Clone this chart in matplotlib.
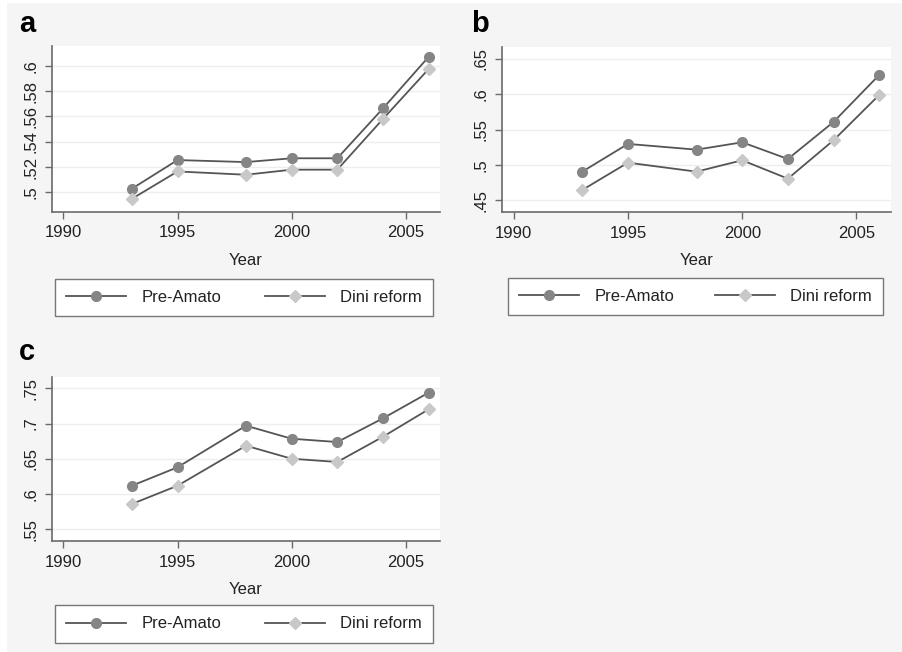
import matplotlib
matplotlib.use("Agg")
import matplotlib.pyplot as plt
from matplotlib.lines import Line2D
from matplotlib.patches import Rectangle

plt.rcParams['font.family'] = ['Liberation Sans', 'DejaVu Sans']

years = [1993, 1995, 1998, 2000, 2002, 2004, 2006]

a_pre = [0.503, 0.5256, 0.524, 0.527, 0.527, 0.5663, 0.607]
a_dini = [0.495, 0.5166, 0.514, 0.518, 0.518, 0.558, 0.5974]

b_pre = [0.4905, 0.5297, 0.5216, 0.532, 0.5084, 0.5608, 0.6273]
b_dini = [0.4646, 0.5032, 0.4905, 0.5066, 0.4806, 0.5349, 0.599]

c_pre = [0.6118, 0.638, 0.697, 0.6785, 0.6738, 0.7074, 0.7438]
c_dini = [0.5859, 0.6118, 0.6686, 0.6501, 0.6455, 0.6813, 0.7202]

xticks = [1990, 1995, 2000, 2005]
a_yticks = [0.50, 0.52, 0.54, 0.56, 0.58, 0.60]
a_ylabels = ['.5', '.52', '.54', '.56', '.58', '.6']
b_yticks = [0.45, 0.50, 0.55, 0.60, 0.65]
b_ylabels = ['.45', '.5', '.55', '.6', '.65']
c_yticks = [0.55, 0.60, 0.65, 0.70, 0.75]
c_ylabels = ['.55', '.6', '.65', '.7', '.75']

series_names = ['Pre-Amato', 'Dini reform']

W, H = 903, 652
BG = '#f5f5f5'
LINE = '#555555'
C_PRE = '#858585'
C_DINI = '#c8c8c8'
AX = '#6a6a6a'
FS = 12

fig = plt.figure(figsize=(W / 100, H / 100), dpi=100, facecolor=BG)
# thin white margins at top and left
fig.patches.append(Rectangle((0, 1 - 3 / H), 1, 3 / H, transform=fig.transFigure,
                             facecolor='white', edgecolor='none', zorder=-10))
fig.patches.append(Rectangle((0, 0), 7 / W, 1, transform=fig.transFigure,
                             facecolor='white', edgecolor='none', zorder=-10))


def px_axes(l, t, r, b):
    return [l / W, 1 - b / H, (r - l) / W, (b - t) / H]


panels = [
    dict(box=(52, 46, 440, 211.5), pre=a_pre, dini=a_dini, yt=a_yticks, yl=a_ylabels,
         ylim=(0.485, 0.6156), label='a', lab_xy=(19, 32), leg=(55, 281, 433, 314)),
    dict(box=(502.3, 46.5, 890.7, 211.7), pre=b_pre, dini=b_dini, yt=b_yticks, yl=b_ylabels,
         ylim=(0.4339, 0.6674), label='b', lab_xy=(471, 32), leg=(508, 280, 883, 313)),
    dict(box=(52, 376.7, 440, 540.7), pre=c_pre, dini=c_dini, yt=c_yticks, yl=c_ylabels,
         ylim=(0.5338, 0.7665), label='c', lab_xy=(19, 360), leg=(55, 607, 433, 641)),
]

for p in panels:
    ax = fig.add_axes(px_axes(*p['box']))
    ax.set_facecolor('white')
    ax.plot(years, p['pre'], color=LINE, lw=1.3, marker='o', ms=7,
            mfc=C_PRE, mec=C_PRE, zorder=3)
    ax.plot(years, p['dini'], color=LINE, lw=1.3, marker='D', ms=6.2,
            mfc=C_DINI, mec=C_DINI, zorder=3)
    ax.set_xlim(1989.5, 2006.5)
    ax.set_ylim(*p['ylim'])
    ax.set_xticks(xticks)
    ax.set_xticklabels([str(x) for x in xticks])
    ax.set_yticks(p['yt'])
    ax.set_yticklabels(p['yl'], rotation=90, va='center')
    for s in ['top', 'right']:
        ax.spines[s].set_visible(False)
    for s in ['left', 'bottom']:
        ax.spines[s].set_color(AX)
        ax.spines[s].set_linewidth(1.2)
    ax.tick_params(axis='both', direction='out', length=5, width=1.0, color=AX,
                   labelsize=FS, labelcolor='#222222')
    ax.tick_params(axis='x', pad=5)
    ax.tick_params(axis='y', pad=5)
    ax.yaxis.grid(True, color='#eeeeee', lw=1.0)
    ax.set_axisbelow(True)
    ax.set_xlabel('Year', fontsize=FS, color='#222222', labelpad=9)

    fig.text(p['lab_xy'][0] / W, 1 - p['lab_xy'][1] / H, p['label'],
             fontsize=21, fontweight='bold', color='black', ha='left', va='baseline')

    handles = [
        Line2D([], [], color=LINE, lw=1.3, marker='o', ms=7, mfc=C_PRE, mec=C_PRE),
        Line2D([], [], color=LINE, lw=1.3, marker='D', ms=6.2, mfc=C_DINI, mec=C_DINI),
    ]
    l, t, r, b = p['leg']
    leg = fig.legend(handles, series_names, loc='center',
                     bbox_to_anchor=(l / W, 1 - b / H, (r - l) / W, (b - t) / H),
                     bbox_transform=fig.transFigure, mode='expand', ncol=2,
                     fontsize=FS, handlelength=3.6, handletextpad=0.9,
                     columnspacing=2.5, borderpad=0.68, borderaxespad=0,
                     fancybox=False, frameon=True)
    fr = leg.get_frame()
    fr.set_edgecolor('#777777')
    fr.set_linewidth(1.0)
    fr.set_facecolor('white')
    fr.set_alpha(1)
    for txt in leg.get_texts():
        txt.set_color('#222222')

fig.savefig('out.png', dpi=100, facecolor=BG)
